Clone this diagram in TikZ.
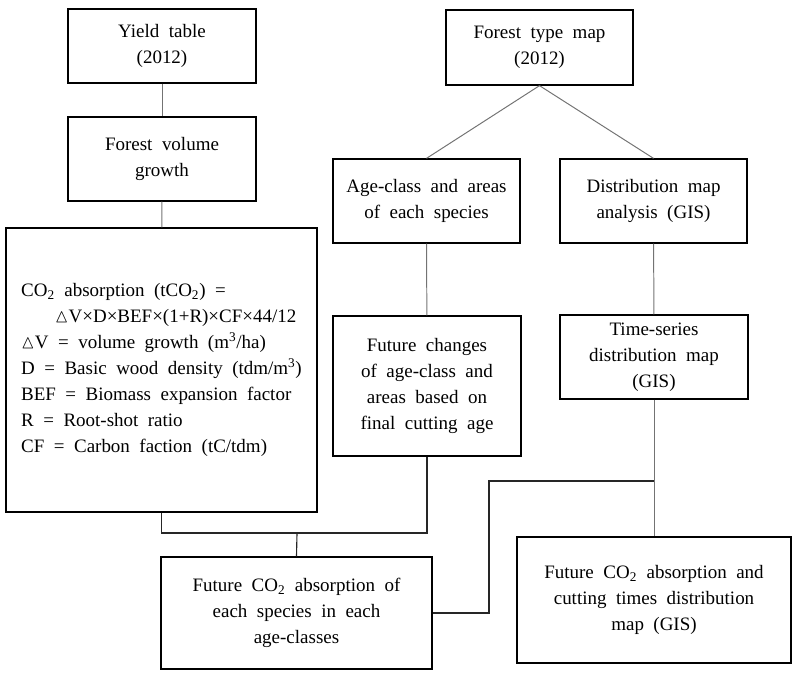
\documentclass[tikz,border=0pt]{standalone}
\usepackage{fontspec}
\setmainfont{Liberation Serif}
\usepackage{amssymb}
\usepackage{tikz}
\newcommand{\boxfont}{\fontsize{13.5}{18.5}\selectfont\spaceskip=0.5em plus 0.1em minus 0.05em\relax}
\tikzstyle{block} = [rectangle, draw=black, line width=0.9pt, inner sep=2pt, font=\boxfont]
\tikzstyle{small} = [block, align=center, minimum width=4.7cm, minimum height=2.1cm]
\tikzstyle{wide} = [block, align=center]
\tikzstyle{link} = [draw=black!55, line width=0.7pt]
\tikzstyle{elbow} = [draw=black!85, line width=0.8pt]

\begin{document}
\begin{tikzpicture}[x=0.025cm, y=-0.025cm]
\useasboundingbox (0,0) rectangle (800,678);
% Nodes
\node (yield) [small, minimum height=1.85cm] at (162,46) {Yield table\\(2012)};
\node (volume) [small] at (162,159) {Forest volume\\growth};
\node (formula) [block, align=left, minimum width=7.775cm, minimum height=7.1cm] at (161.5,370)
  {CO\textsubscript{2} absorption (tCO\textsubscript{2}) =\\
   \hspace*{24pt}$\vartriangle$V×D×BEF×(1+R)×CF×44/12\\
   $\vartriangle$V = volume growth (m\textsuperscript{3}/ha)\\
   D = Basic wood density (tdm/m\textsuperscript{3})\\
   BEF = Biomass expansion factor\\
   R = Root-shot ratio\\
   CF = Carbon faction (tC/tdm)};

\node (typemap) [small, minimum width=4.675cm, minimum height=1.875cm] at (539.5,47.5) {Forest type map\\(2012)};
\node (ageclass) [small, minimum width=4.675cm] at (426.5,201) {Age-class and areas\\of each species};
\node (distmap) [small, minimum width=4.675cm] at (653.5,201) {Distribution map\\analysis (GIS)};
\node (changes) [small, minimum height=3.5cm] at (427,386) {Future changes\\of age-class and\\areas based on\\final cutting age};
\node (timeseries) [small] at (654,357) {Time-series\\distribution map\\(GIS)};

\node (absorb) [wide, minimum width=6.775cm, minimum height=2.8cm] at (296.5,613) {Future CO\textsubscript{2} absorption of\\each species in each\\age-classes};
\node (cutting) [wide, minimum width=6.85cm, minimum height=3.15cm] at (654,600) {Future CO\textsubscript{2} absorption and\\cutting times distribution\\map (GIS)};

\coordinate (joinL) at (297,533);
\coordinate (bendR) at (489,481);

% Connections
\draw [link] (yield) -- (volume);
\draw [link] (volume) -- (formula);
\draw [link] (typemap.south) -- (ageclass.north);
\draw [link] (typemap.south) -- (distmap.north);
\draw [link] (ageclass) -- (changes);
\draw [link] (distmap) -- (timeseries);
\draw [link] (timeseries) -- (cutting);

\draw [elbow] (formula.south) |- (joinL) -| (changes.south);
\draw [elbow] (joinL) -- (absorb.north);
\draw [elbow] (absorb.east) -| (bendR) -- (bendR -| timeseries.south);

\end{tikzpicture}
\end{document}
